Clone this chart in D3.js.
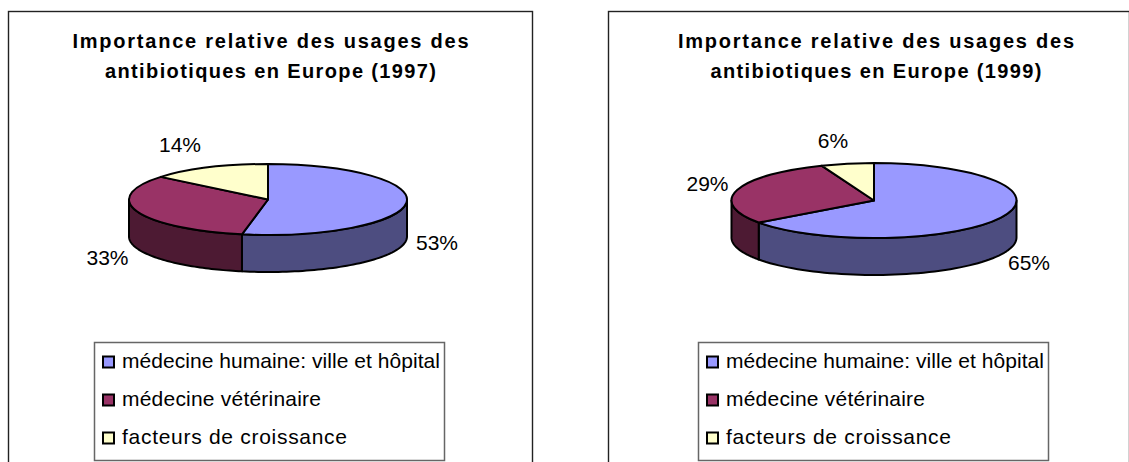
<!DOCTYPE html>
<html>
<head>
<meta charset="utf-8">
<script src="https://cdn.jsdelivr.net/npm/d3@7"></script>
<style>
  html, body { margin: 0; padding: 0; background: #fff; }
  svg { display: block; }
  text { font-family: "Liberation Sans", Arial, sans-serif; fill: #000; }
</style>
</head>
<body>
<div id="chart"></div>
<script>
// Data
const categories = ["médecine humaine: ville et hôpital", "médecine vétérinaire", "facteurs de croissance"];
const values1997 = [53, 33, 14];
const values1999 = [65, 29, 6];
const titles1997 = ["Importance relative des usages des", "antibiotiques en Europe (1997)"];
const titles1999 = ["Importance relative des usages des", "antibiotiques en Europe (1999)"];

const topColors = ["#9999ff", "#993366", "#ffffcc"];
const sideColors = ["#4d4d80", "#4d1a33", "#808066"];

const svg = d3.select("#chart").append("svg")
  .attr("width", 1129)
  .attr("height", 462);

// Draws one pie panel: frame, title, 3D pie, labels and legend
function drawPanel(opts) {
  const g = svg.append("g");

  // Frame, cut off by the bottom of the image
  g.append("rect")
    .attr("x", opts.frame[0] + 0.5).attr("y", 11.5)
    .attr("width", opts.frame[1] - opts.frame[0]).attr("height", 500)
    .attr("fill", "#fff").attr("stroke", "#222").attr("stroke-width", 1.4);

  // Title
  g.selectAll(".title").data(opts.title).enter().append("text")
    .attr("class", "title")
    .attr("x", opts.titleX)
    .attr("y", (d, i) => 48 + i * 30)
    .attr("text-anchor", "middle")
    .attr("font-size", 20)
    .attr("font-weight", "bold")
    .attr("textLength", (d, i) => opts.titleLen[i])
    .text(d => d);

  const { cx, cy, rx, ry, depth } = opts;
  const arcs = d3.pie().sort(null)(opts.values);

  // Point on the rim of the ellipse, angle clockwise from 12 o'clock
  const px = a => cx + rx * Math.sin(a);
  const py = a => cy - ry * Math.cos(a);

  // Side walls: only the front half of the rim can be seen
  arcs.forEach((d, i) => {
    const a0 = Math.max(d.startAngle, Math.PI / 2);
    const a1 = Math.min(d.endAngle, Math.PI * 1.5);
    if (a1 <= a0) return;
    const rim = d3.range(0, 61).map(k => a0 + (a1 - a0) * k / 60);
    const pts = rim.map(a => [px(a), py(a)])
      .concat(rim.slice().reverse().map(a => [px(a), py(a) + depth]));
    g.append("path")
      .attr("d", d3.line()(pts) + "Z")
      .attr("fill", sideColors[i])
      .attr("stroke", "#000")
      .attr("stroke-width", 2)
      .attr("stroke-linejoin", "round");
  });

  // Top face: a circular pie squashed to an ellipse
  const arc = d3.arc().innerRadius(0).outerRadius(rx);
  g.append("g")
    .attr("transform", `translate(${cx},${cy}) scale(1,${ry / rx})`)
    .selectAll("path").data(arcs).enter().append("path")
    .attr("d", arc)
    .attr("fill", (d, i) => topColors[i])
    .attr("stroke", "#000")
    .attr("stroke-width", 2)
    .attr("stroke-linejoin", "round")
    .attr("vector-effect", "non-scaling-stroke");

  // Percent labels
  g.selectAll(".pct").data(opts.values).enter().append("text")
    .attr("class", "pct")
    .attr("x", (d, i) => opts.labelPos[i][0])
    .attr("y", (d, i) => opts.labelPos[i][1])
    .attr("text-anchor", "middle")
    .attr("font-size", 21)
    .text(d => d + "%");

  // Legend
  const lg = g.append("g").attr("transform", `translate(${opts.legend[0]},${opts.legend[1]})`);
  lg.append("rect")
    .attr("x", 0.5).attr("y", 0.5)
    .attr("width", opts.legend[2]).attr("height", 118)
    .attr("fill", "#fff").attr("stroke", "#666").attr("stroke-width", 1.5);

  const y = d3.scalePoint().domain(categories).range([20, 96]);
  const rows = lg.selectAll(".row").data(categories).enter().append("g").attr("class", "row");
  rows.append("rect")
    .attr("x", 9).attr("y", d => y(d) - 5.5)
    .attr("width", 11).attr("height", 11)
    .attr("fill", (d, i) => topColors[i])
    .attr("stroke", "#000").attr("stroke-width", 2);
  rows.append("text")
    .attr("x", 28).attr("y", d => y(d) + 6)
    .attr("font-size", 21)
    .attr("textLength", (d, i) => legendLen[i])
    .text(d => d);
}

// Widths of the legend labels as measured in the picture
const legendLen = [318, 199, 225];

drawPanel({
  frame: [8, 532], title: titles1997, titleX: 270.5, titleLen: [396, 331],
  values: values1997, cx: 268, cy: 199.5, rx: 139, ry: 35.5, depth: 37,
  labelPos: [[437, 250], [107.5, 265], [180, 152]],
  legend: [94, 342, 350]
});

drawPanel({
  frame: [608, 1129], title: titles1999, titleX: 876, titleLen: [396, 331],
  values: values1999, cx: 874, cy: 200.5, rx: 142.5, ry: 37.5, depth: 37,
  labelPos: [[1029, 270], [707.5, 190.5], [833, 148]],
  legend: [698, 342, 350]
});
</script>
</body>
</html>
